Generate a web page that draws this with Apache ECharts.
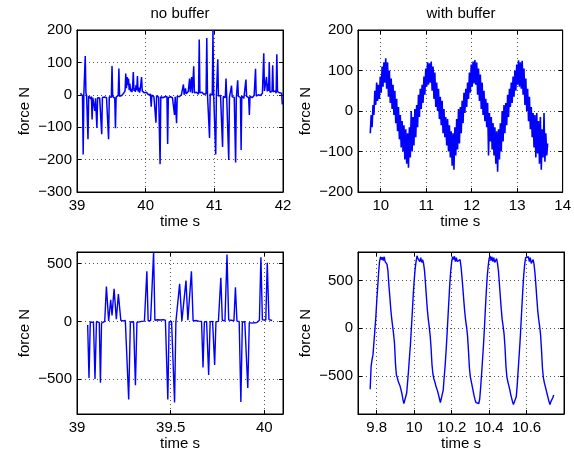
<!DOCTYPE html>
<html><head><meta charset="utf-8">
<script src="https://cdn.jsdelivr.net/npm/echarts@6/dist/echarts.min.js"></script>
<style>html,body{margin:0;padding:0;background:#fff}#c{width:574px;height:454px}</style>
</head><body><div id="c"></div>
<script>
// ---------- data ----------
const titles = ['no buffer', 'with buffer'];

// Panel A (no buffer, 39-42 s), sampled every 0.01 s from 39.05 s
const aStart = 39.05, aStep = 0.01;
const aForce = [
  5, 2, 8, -3, -184, 4, 10, 120, 6, -2,
  -8, -137, -4, -10, -6, -12, -5, -76, -9, -14,
  -7, -50, -11, -5, -102, -9, -13, -6, -10, -4,
  -12, -122, -8, -5, -11, -7, -13, -6, -9, -4,
  -10, -137, -6, -12, -3, -8, 89, -5, -10, -6,
  -11, -103, -7, -4, -9, -2, 81, -5, 0, -6,
  -2, 3, -1, 5, 8, 12, 66, 20, 55, 30,
  50, 15, 35, 10, 18, 8, 25, 70, 12, 20,
  9, 30, 14, 58, 10, 22, 7, 15, 11, 55,
  12, 8, 15, 6, 10, 4, 8, 2, 5, 0,
  3, -2, 2, -37, -1, -4, 0, -6, -3, -5,
  -86, -2, -7, -3, -8, -4, -214, -6, -10, -5,
  -9, -4, -11, -6, -8, -12, -5, -152, -9, -7,
  -11, -6, -10, -4, -9, -5, -8, -62, -6, -10,
  -88, -4, -8, -3, -6, -1, -5, 0, -3, 2,
  32, 0, 5, 20, 3, 8, 1, 10, 6, 50,
  8, 12, 55, 5, 10, 88, 6, 9, 4, 8,
  3, 7, 2, 171, 6, 1, 5, 8, 2, 6,
  1, 5, 0, 4, 175, 2, 6, 1, -133, 3,
  0, 4, -1, 200, 2, -3, 1, -184, -2, -5,
  110, -4, -1, -6, -2, -7, -3, -161, -5, -8,
  -4, -9, 50, -6, -10, -5, -201, -8, -4, -9,
  28, -6, -10, -5, -8, -4, -209, -9, -6, 45,
  -5, -10, -6, -8, -170, -4, -9, -6, -11, -5,
  -8, 47, -5, -10, -6, -9, -62, -4, -8, -5,
  -9, -3, -7, -2, -6, 80, -4, -1, -5, 0,
  -3, 1, -2, 3, 0, 5, 8, 128, 12, 6,
  15, 55, 10, 35, 12, 101, 8, 14, 6, 11,
  91, 9, 13, 7, 12, 5, 125, 10, 4, 8,
  6, 9, 3, 5, -30
];

// Panel B (with buffer, 9.5-14 s), sampled every 0.02 s from 9.77 s
const bStart = 9.77, bStep = 0.02;
const bForce = [
  -55, -10, -40, 15, -10, 50, 15, 70, 25, 65,
  30, 85, 45, 110, 60, 120, 70, 130, 55, 120,
  35, 100, 20, 80, 5, 65, -10, 50, -30, 30,
  -50, 10, -70, -10, -90, -25, -100, -35, -120, -45,
  -130, -55, -140, -40, -115, 0, -100, -15, -85, 5,
  -65, 15, -40, 40, -15, 55, 5, 65, 20, 85,
  40, 105, 60, 120, 65, 118, 70, 122, 50, 110,
  30, 95, 10, 70, 0, 55, -20, 35, -35, 25,
  -55, 5, -65, -15, -85, -20, -100, -35, -115, -50,
  -135, -55, -145, -40, -110, -20, -95, 5, -80, 10,
  -55, 25, -30, 45, -5, 55, 10, 70, 30, 95,
  45, 115, 60, 122, 68, 126, 65, 120, 40, 105,
  25, 90, 5, 70, -10, 50, -25, 30, -40, 20,
  -110, -5, -75, -15, -95, -30, -110, -40, -130, -50,
  -150, -45, -120, -30, -100, 0, -75, 15, -55, 20,
  -35, 40, -15, 55, 10, 70, 20, 85, 35, 100,
  50, 115, 65, 125, 60, 120, 55, 124, 40, 105,
  15, 80, 0, 55, -25, 35, -45, 10, -65, -5,
  -90, -10, -115, -5, -105, -25, -130, -15, -145, -45,
  -115, -5, -125, -55, -110, -80
];

// Panel C (no buffer, zoomed 39-40.1 s)
const cTime = [
  39.057, 39.064, 39.071, 39.080, 39.088, 39.096, 39.104, 39.112, 39.119, 39.125,
  39.131, 39.140, 39.148, 39.157, 39.169, 39.180, 39.187, 39.198, 39.210, 39.221,
  39.234, 39.245, 39.258, 39.268, 39.276, 39.285, 39.293, 39.302, 39.312, 39.320,
  39.330, 39.345, 39.360, 39.373, 39.380, 39.393, 39.402, 39.409, 39.416, 39.430,
  39.445, 39.460, 39.472, 39.480, 39.485, 39.492, 39.505, 39.512, 39.521, 39.528,
  39.537, 39.548, 39.560, 39.570, 39.582, 39.592, 39.600, 39.611, 39.620, 39.635,
  39.650, 39.665, 39.673, 39.680, 39.692, 39.703, 39.711, 39.724, 39.735, 39.742,
  39.755, 39.768, 39.776, 39.790, 39.801, 39.810, 39.825, 39.838, 39.846, 39.854,
  39.866, 39.875, 39.883, 39.896, 39.904, 39.912, 39.920, 39.935, 39.950, 39.962,
  39.974, 39.982, 39.990, 40.000, 40.008, 40.016, 40.025, 40.035, 40.042
];
const cForce = [
  -30, -489, -5, 0, -8, -497, 0, -3, -10, -529,
  -15, -5, 0, 302, 5, 187, 52, 282, 20, 236,
  10, 5, 8, 3, -675, -5, 0, -3, -552, -8,
  -2, 0, 3, 434, 5, 8, 3, 597, 10, 15,
  12, 15, 10, 5, -675, -5, 0, -5, -701, -5,
  0, 325, 5, 2, 353, 10, 5, 434, 5, 8,
  3, 0, -399, -5, 0, -463, -3, 0, -377, -3,
  0, 377, 10, 5, 578, 12, 10, 5, 296, 3,
  0, -696, -5, -3, -10, -575, -10, -15, -12, -8,
  10, 554, 15, 20, 12, 506, 15, 10, 8
];

// Panel D (with buffer, zoomed 9.7-10.8 s), sampled every 0.005 s from 9.765 s
const dStart = 9.765, dStep = 0.005;
const dForce = [
  -640, -400, -330, -280, -150, -20, 110, 280, 430, 580, 700, 750, 720, 745, 710, 750, 700, 720, 670, 600,
  450, 330, 200, 100, 20, -60, -160, -370, -490, -520, -560, -580, -610, -650, -690, -750, -790, -800, -770, -680,
  -560, -440, -300, -170, 0, 170, 350, 500, 620, 700, 760, 730, 750, 700, 740, 690, 720, 680, 610, 480,
  340, 200, 100, 20, -70, -200, -380, -480, -530, -560, -600, -620, -660, -700, -740, -780, -800, -760, -650, -520,
  -400, -250, -80, 100, 280, 460, 600, 690, 750, 720, 755, 700, 740, 700, 720, 690, 720, 650, 540, 420,
  290, 170, 80, 10, -80, -240, -420, -510, -560, -610, -660, -710, -750, -780, -800, -800, -790, -740, -620, -480,
  -330, -180, 0, 200, 380, 540, 650, 730, 760, 710, 750, 700, 740, 690, 700, 730, 680, 600, 470, 330,
  200, 90, 20, -60, -200, -400, -510, -560, -600, -640, -690, -730, -770, -800, -800, -780, -720, -600, -450, -300,
  -150, 30, 220, 400, 560, 670, 740, 760, 720, 750, 700, 740, 680, 690, 720, 670, 580, 450, 310, 180,
  90, 20, -70, -230, -420, -520, -570, -610, -650, -690, -730, -770, -800, -770, -790, -730, -700
];

// axis ranges and tick labels
const aXTicks = [39, 40, 41, 42],            aYTicks = [-300, -200, -100, 0, 100, 200];
const bXTicks = [10, 11, 12, 13, 14],        bYTicks = [-200, -100, 0, 100, 200];
const cXTicks = [39, 39.5, 40],              cYTicks = [-500, 0, 500];
const dXTicks = [9.8, 10, 10.2, 10.4, 10.6], dYTicks = [-500, 0, 500];
const ranges = [
  {x: [39, 42],    y: [-300, 200]},
  {x: [9.5, 14],   y: [-200, 200]},
  {x: [39, 40.1],  y: [-800, 600]},
  {x: [9.7, 10.8], y: [-900, 800]}
];

// ---------- build ----------
const FONT = '"Liberation Sans", Arial, Helvetica, sans-serif';
const sampled = (start, step, vals) => vals.map((v, i) => [+(start + i * step).toFixed(4), v]);
const paired = (ts, vs) => ts.map((t, i) => [t, vs[i]]);
const fmt = v => String(v).replace('-', '\u2212');

const gridPos = [
  {left: 77, top: 30, width: 206, height: 162},
  {left: 358, top: 30, width: 206, height: 162},
  {left: 77, top: 252, width: 206, height: 162},
  {left: 358, top: 252, width: 206, height: 162}
];
const grids = gridPos.map(g => Object.assign({show: true, borderColor: '#000', borderWidth: 1,
  backgroundColor: 'transparent', containLabel: false}, g));

const txt = {fontSize: 15, color: '#000', fontFamily: FONT};
const grid_line = {show: true, lineStyle: {color: '#555', type: [1, 3], width: 1}};

function axes(kind, gi, range, ticks) {
  const main = {
    type: 'value', gridIndex: gi, min: range[0], max: range[1],
    position: kind === 'x' ? 'bottom' : 'left',
    name: kind === 'x' ? 'time s' : 'force N',
    nameLocation: 'middle', nameGap: kind === 'x' ? 22 : 45,
    nameTextStyle: txt,
    axisLine: {show: true, onZero: false, lineStyle: {color: '#000', width: 1}},
    axisTick: {show: true, inside: true, length: 4, customValues: ticks, lineStyle: {color: '#000'}},
    axisLabel: Object.assign({show: true, customValues: ticks, margin: kind === 'x' ? 6 : 5, formatter: fmt}, txt),
    splitLine: grid_line,
    silent: true
  };
  const mirror = {
    type: 'value', gridIndex: gi, min: range[0], max: range[1],
    position: kind === 'x' ? 'top' : 'right',
    axisLine: {show: true, onZero: false, lineStyle: {color: '#000', width: 1}},
    axisTick: {show: true, inside: true, length: 4, customValues: ticks, lineStyle: {color: '#000'}},
    axisLabel: {show: false}, splitLine: {show: false}, silent: true
  };
  return [main, mirror];
}

const xTickSets = [aXTicks, bXTicks, cXTicks, dXTicks];
const yTickSets = [aYTicks, bYTicks, cYTicks, dYTicks];
let xAxis = [], yAxis = [];
for (let g = 0; g < 4; g++) {
  xAxis = xAxis.concat(axes('x', g, ranges[g].x, xTickSets[g]));
  yAxis = yAxis.concat(axes('y', g, ranges[g].y, yTickSets[g]));
}

const seriesData = [
  sampled(aStart, aStep, aForce),
  sampled(bStart, bStep, bForce),
  paired(cTime, cForce),
  sampled(dStart, dStep, dForce)
];
const widths = [1.5, 1.6, 1.4, 1.4];
const series = seriesData.map((d, g) => ({
  type: 'line', xAxisIndex: 2 * g, yAxisIndex: 2 * g, data: d,
  symbol: 'none', showSymbol: false, sampling: null, clip: true, silent: true,
  lineStyle: {color: '#0000ff', width: widths[g]}, itemStyle: {color: '#0000ff'},
  emphasis: {disabled: true}, animation: false
}));

const chart = echarts.init(document.getElementById('c'), null, {renderer: 'canvas'});
chart.setOption({
  backgroundColor: '#fff',
  animation: false,
  title: [
    {text: titles[0], left: 180, top: 6, textAlign: 'center', padding: 0, textStyle: Object.assign({fontWeight: 'normal'}, txt)},
    {text: titles[1], left: 461, top: 6, textAlign: 'center', padding: 0, textStyle: Object.assign({fontWeight: 'normal'}, txt)}
  ],
  grid: grids,
  xAxis: xAxis,
  yAxis: yAxis,
  series: series
});
</script></body></html>
